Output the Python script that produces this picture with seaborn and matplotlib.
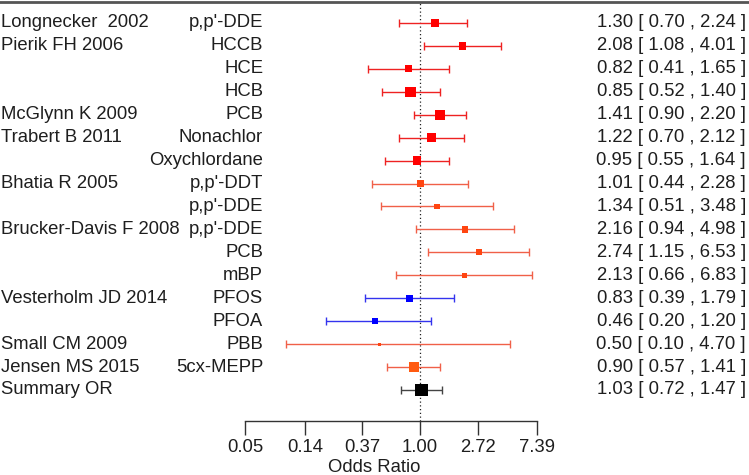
import numpy as np
import pandas as pd
import matplotlib
matplotlib.use("Agg")
import matplotlib.pyplot as plt
import seaborn as sns

# ---------------------------------------------------------------------
# Data
# ---------------------------------------------------------------------
studies = ["Longnecker  2002", "Pierik FH 2006", "", "", "McGlynn K 2009",
           "Trabert B 2011", "", "Bhatia R 2005", "", "Brucker-Davis F 2008",
           "", "", "Vesterholm JD 2014", "", "Small CM 2009", "Jensen MS 2015",
           "Summary OR"]
chemicals = ["p,p'-DDE", "HCCB", "HCE", "HCB", "PCB", "Nonachlor", "Oxychlordane",
             "p,p'-DDT", "p,p'-DDE", "p,p'-DDE", "PCB", "mBP", "PFOS", "PFOA",
             "PBB", "5cx-MEPP", ""]
odds = [1.30, 2.08, 0.82, 0.85, 1.41, 1.22, 0.95, 1.01, 1.34, 2.16, 2.74, 2.13,
        0.83, 0.46, 0.50, 0.90, 1.03]
ci_low = [0.70, 1.08, 0.41, 0.52, 0.90, 0.70, 0.55, 0.44, 0.51, 0.94, 1.15, 0.66,
          0.39, 0.20, 0.10, 0.57, 0.72]
ci_high = [2.24, 4.01, 1.65, 1.40, 2.20, 2.12, 1.64, 2.28, 3.48, 4.98, 6.53, 6.83,
           1.79, 1.20, 4.70, 1.41, 1.47]
# chemical class -> colour group
groups = ["OC"] * 7 + ["DDT/PCB"] * 5 + ["PFAS"] * 2 + ["PBB", "phthalate", "summary"]
# relative study weights (marker size)
weights = [8, 7, 6.5, 10, 10, 8, 8, 6, 5.5, 6, 6, 5, 6.5, 5.5, 3, 10, 12]

tick_or = [0.05, 0.14, 0.37, 1.00, 2.72, 7.39]

palette = {"OC": "#ff0000", "DDT/PCB": "#ff4510", "PFAS": "#0000ff",
           "PBB": "#ff4510", "phthalate": "#ff5a10", "summary": "#000000"}
line_colors = {"OC": "#ee2222", "DDT/PCB": "#f06048", "PFAS": "#3333ee",
               "PBB": "#f06048", "phthalate": "#f06048", "summary": "#444444"}

df = pd.DataFrame({"study": studies, "chem": chemicals, "or": odds,
                   "lo": ci_low, "hi": ci_high, "group": groups, "w": weights})
df["log_or"] = np.log(df["or"])
df["log_lo"] = np.log(df["lo"])
df["log_hi"] = np.log(df["hi"])
df["row"] = np.arange(len(df), 0, -1)

# ---------------------------------------------------------------------
# Figure
# ---------------------------------------------------------------------
sns.set_style("white")
plt.rcParams["font.family"] = ["Liberation Sans", "DejaVu Sans"]
FS = 13.3

fig = plt.figure(figsize=(7.49, 4.75), dpi=100)
ax = fig.add_axes([0, 54 / 475, 1, 1 - 56 / 475])

# pixel -> data scale: 58.33 px per unit of ln(OR), ln(1) at x=420 px
px = 58.33
ax.set_xlim(-420 / px, (749 - 420) / px)
ax.set_ylim(1 - 31 / 22.94, 1 + 388 / 22.94)

ax.axvline(0, color="#222222", ls=(0, (1, 2)), lw=0.9, zorder=1)

for _, r in df.iterrows():
    ax.errorbar(r["log_or"], r["row"],
                xerr=[[r["log_or"] - r["log_lo"]], [r["log_hi"] - r["log_or"]]],
                fmt="none", ecolor=line_colors[r["group"]], elinewidth=1,
                capsize=2.6, capthick=1, zorder=2)

sns.scatterplot(data=df, x="log_or", y="row", hue="group", palette=palette,
                marker="s", s=(df["w"] * 0.75) ** 2, linewidth=0,
                legend=False, ax=ax, zorder=3)

text_kw = dict(fontsize=FS, color="#1e1e1e", va="center")
for _, r in df.iterrows():
    ax.text(1 / px - 420 / px, r["row"], r["study"], ha="left", **text_kw)
    ax.text((263 - 420) / px, r["row"], r["chem"], ha="right", **text_kw)
    ax.text((746 - 420) / px, r["row"],
            f"{r['or']:.2f} [ {r['lo']:.2f} , {r['hi']:.2f} ]", ha="right", **text_kw)

ax.set_xticks(np.log(tick_or))
ax.set_xticklabels([f"{t:.2f}" for t in tick_or], fontsize=FS, color="#1e1e1e")
ax.set_yticks([])
ax.tick_params(axis="x", direction="out", length=10, width=1, pad=3,
               color="#333333", bottom=True)
ax.set_xlabel("Odds Ratio", fontsize=FS, color="#1e1e1e", labelpad=2)
ax.set_ylabel("")

for side in ["left", "right"]:
    ax.spines[side].set_visible(False)
ax.spines["bottom"].set_bounds(np.log(tick_or[0]), np.log(tick_or[-1]))
ax.spines["bottom"].set_color("#333333")
ax.spines["bottom"].set_linewidth(1)
ax.spines["top"].set_color("#555555")
ax.spines["top"].set_linewidth(2)

fig.savefig("out.png", dpi=100)
